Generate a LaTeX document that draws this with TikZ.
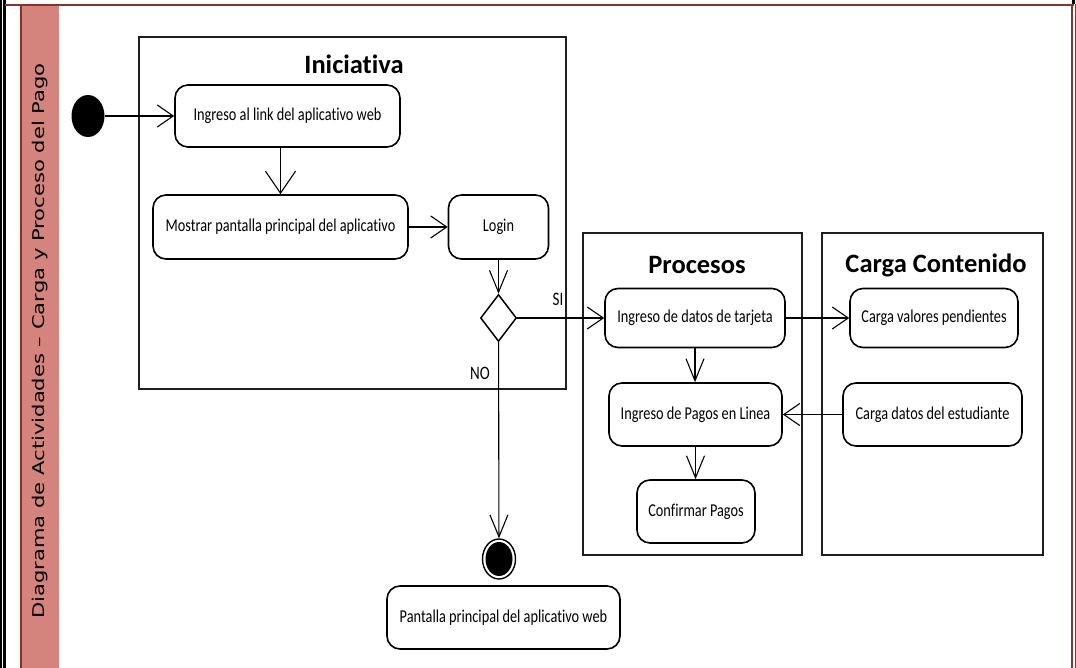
\documentclass[tikz,border=0pt]{standalone}
\usepackage{fontspec}
\usetikzlibrary{arrows.meta,shapes.geometric}
\newfontfamily\bodyfont[FakeStretch=0.79,RawFeature=-liga]{Carlito}
\newfontfamily\titlefont[RawFeature=-liga]{Carlito}
\newfontfamily\sidefont[FakeStretch=1.3]{DejaVu Sans}
\definecolor{bandred}{RGB}{212,132,124}
\definecolor{rimred}{RGB}{135,52,42}
\definecolor{lanegray}{RGB}{30,30,30}

\begin{document}
\begin{tikzpicture}[x=1pt,y=-1pt,
  action/.style={draw=black, line width=1.6pt, rounded corners=13pt, inner sep=0pt,
    fill=white, font=\bodyfont\fontsize{18.1}{21}\selectfont},
  lane/.style={draw=lanegray, line width=2pt, inner sep=0pt},
  lanetitle/.style={inner sep=0pt, font=\titlefont\bfseries\fontsize{26.5}{30}\selectfont},
  flow/.style={draw=black, line width=1.1pt},
  harr/.style={flow, -{Straight Barb[length=16pt,width=22pt]}},
  varr/.style={flow, -{Straight Barb[length=22pt,width=18pt]}},
  warr/.style={flow, -{Straight Barb[length=22pt,width=30pt]}},
  guard/.style={inner sep=0pt, font=\bodyfont\fontsize{19}{21}\selectfont}
]
\useasboundingbox (0,0) rectangle (1076,668);

% page rules and side band
\fill[black] (0,0) rectangle (1.7,668);
\fill[black] (3,0) rectangle (5.7,668);
\fill[black] (1072,0) rectangle (1075,4);
\draw[rimred, line width=2pt] (5,5) -- (1073.5,5);
\draw[rimred, line width=2.3pt] (1072.2,4) -- (1072.2,668);
\draw[rimred, line width=1.3pt] (1075.4,4) -- (1075.4,668);
\fill[bandred] (20,6) rectangle (59,668);
\draw[rimred, line width=2pt] (21,6) -- (21,668);
\node[rotate=90, inner sep=0pt, font=\sidefont\fontsize{16.2}{18}\selectfont] (sidetitle) at (40,341)
  {Diagrama de Actividades – Carga y Proceso del Pago};

% swimlane frames
\node[lane, minimum width=427pt, minimum height=352pt] (ini) at (352.5,213) {};
\node[lane, minimum width=219pt, minimum height=322pt] (proc) at (692.5,394) {};
\node[lane, minimum width=221pt, minimum height=322pt] (carga) at (932.5,394) {};
\node[lanetitle] (iniT) at (354,64) {Iniciativa};
\node[lanetitle] (procT) at (697,265) {Procesos};
\node[lanetitle] (cargaT) at (936,265) {Carga Contenido};

% start / end markers and decision
\node[ellipse, fill=black, inner sep=0pt, minimum width=33pt, minimum height=42pt] (start) at (88,116) {};
\node[ellipse, draw=black, line width=1.4pt, inner sep=0pt, minimum width=33pt, minimum height=40pt] (stop) at (499,559) {};
\node[ellipse, fill=black, inner sep=0pt, minimum width=27pt, minimum height=34pt] (stopcore) at (stop) {};
\node[diamond, draw=black, line width=1.5pt, inner sep=0pt, minimum width=36pt, minimum height=47pt] (dec) at (498.5,318) {};

% actions
\node[action, minimum width=225pt, minimum height=62pt] (n1) at (287.5,116) {Ingreso al link del aplicativo web};
\node[action, minimum width=255pt, minimum height=64pt] (n2) at (280.5,227) {Mostrar pantalla principal del aplicativo};
\node[action, minimum width=100pt, minimum height=64pt] (login) at (498.5,227) {Login};
\node[action, minimum width=180pt, minimum height=59pt] (datos) at (695,318) {Ingreso de datos de tarjeta};
\node[action, minimum width=168pt, minimum height=59pt] (valores) at (934,318) {Carga valores pendientes};
\node[action, minimum width=173pt, minimum height=63pt] (pagos) at (695.5,414.5) {Ingreso de Pagos en Linea};
\node[action, minimum width=179pt, minimum height=63pt] (estud) at (932.5,414.5) {Carga datos del estudiante};
\node[action, minimum width=118pt, minimum height=63pt] (confirm) at (696,511.5) {Confirmar Pagos};
\node[action, minimum width=233pt, minimum height=63pt] (home) at (503.5,617.5) {Pantalla principal del aplicativo web};

% flows
\draw[harr] (start) -- (n1);
\draw[warr] (n1.south -| n2.north) -- (n2.north);
\draw[harr] (n2) -- (login);
\draw[varr] (login) -- (dec);
\draw[harr] (dec) -- (datos);
\node[guard] (si) at (558,299) {SI};
\draw[varr] (dec) -- (stop);
\node[guard] (no) at (480,373) {NO};
\draw[harr] (datos) -- (valores);
\draw[varr] (datos.south) -- (datos.south |- pagos.north);
\draw[harr] (estud) -- (pagos);
\draw[varr] (pagos.south) -- (pagos.south |- confirm.north);
\end{tikzpicture}
\end{document}
